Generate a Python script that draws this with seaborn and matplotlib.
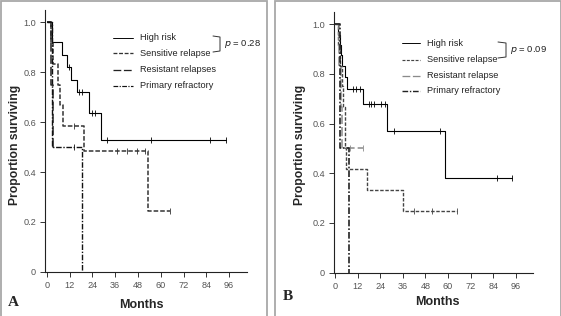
import matplotlib
matplotlib.use("Agg")
import matplotlib.pyplot as plt
from matplotlib.patches import Rectangle
from matplotlib.lines import Line2D
import seaborn as sns
import pandas as pd
import numpy as np

# ---- data (months, proportion surviving) ----
groups_a = ["High risk", "Sensitive relapse", "Resistant relapses", "Primary refractory"]
groups_b = ["High risk", "Sensitive relapse", "Resistant relapse", "Primary refractory"]

# panel A
hr_a_t = [0, 3.0, 8.0, 10.5, 13.0, 16.0, 22.5, 28.5, 94.5]
hr_a_s = [1.0, 0.92, 0.87, 0.82, 0.77, 0.72, 0.635, 0.53, 0.53]
hr_a_cens = [11.5, 17.0, 18.5, 24.0, 25.5, 31.5, 55.0, 86.0, 94.5]

sens_a_t = [0, 2.5, 3.5, 6.0, 7.0, 8.7, 19.8, 53.5, 65.0]
sens_a_s = [1.0, 0.917, 0.833, 0.75, 0.667, 0.583, 0.486, 0.243, 0.243]
sens_a_cens = [14.5, 37.0, 42.0, 47.5, 51.5, 65.0]

res_a_t = [0, 2.0, 3.2, 4.0]
res_a_s = [1.0, 0.75, 0.5, 0.5]
res_a_cens = []

prim_a_t = [0, 2.8, 18.4]
prim_a_s = [1.0, 0.5, 0.0]
prim_a_cens = [14.3]

# panel B
hr_b_t = [0, 1.5, 2.5, 3.0, 3.5, 5.3, 6.5, 14.9, 27.7, 58.3, 93.7]
hr_b_s = [1.0, 0.958, 0.917, 0.875, 0.833, 0.787, 0.74, 0.68, 0.57, 0.38, 0.38]
hr_b_cens = [9.7, 11.4, 13.1, 17.9, 19.3, 20.7, 24.5, 26.3, 31.5, 55.5, 85.9, 93.7]

sens_b_t = [0, 1.5, 2.5, 3.5, 4.5, 5.2, 5.8, 17.0, 36.3, 64.8]
sens_b_s = [1.0, 0.917, 0.833, 0.75, 0.667, 0.5, 0.417, 0.333, 0.25, 0.25]
sens_b_cens = [42.0, 51.3, 64.8]

res_b_t = [0, 2.0, 3.0, 3.8, 14.9]
res_b_s = [1.0, 0.833, 0.667, 0.5, 0.5]
res_b_cens = [8.0, 14.9]

prim_b_t = [0, 2.5, 7.5]
prim_b_s = [1.0, 0.5, 0.0]
prim_b_cens = []

x_ticks = [0, 12, 24, 36, 48, 60, 72, 84, 96]
y_ticks = [0, 0.2, 0.4, 0.6, 0.8, 1.0]
y_tick_labels = ["0", "0.2", "0.4", "0.6", "0.8", "1.0"]
p_values = ["0.28", "0.09"]
panel_letters = ["A", "B"]

# ---- styles ----
styles_a = [
    dict(color="black", lw=0.8, dashes=(None, None)),
    dict(color="#333333", lw=1.1, dashes=(3, 1.3)),
    dict(color="#222222", lw=1.1, dashes=(6, 2)),
    dict(color="#111111", lw=1.0, dashes=(4, 1.2, 1, 1.2)),
]
styles_b = [
    dict(color="black", lw=0.8, dashes=(None, None)),
    dict(color="#444444", lw=1.0, dashes=(2.5, 1.2)),
    dict(color="#8a8a8a", lw=1.1, dashes=(6, 2)),
    dict(color="#222222", lw=1.2, dashes=(4, 1.2, 1, 1.2)),
]

sns.set_style("ticks")
plt.rcParams["font.family"] = ["Liberation Sans", "DejaVu Sans"]

W, H = 561, 316
fig = plt.figure(figsize=(W / 100, H / 100), dpi=100)


def px(x0, y0, x1, y1):
    return [x0 / W, 1 - y1 / H, (x1 - x0) / W, (y1 - y0) / H]


def step_at(t, s, c):
    idx = np.searchsorted(t, c, side="right") - 1
    return np.asarray(s)[idx]


def draw_panel(ax, curves, styles, xlim):
    for (t, s, cens), st in zip(curves, styles):
        df = pd.DataFrame({"t": t, "s": s})
        sns.lineplot(data=df, x="t", y="s", ax=ax, estimator=None,
                     drawstyle="steps-post", color=st["color"], lw=st["lw"])
        ln = ax.lines[-1]
        if st["dashes"][0] is not None:
            ln.set_dashes(st["dashes"])
        if len(cens):
            cdf = pd.DataFrame({"t": cens, "s": step_at(t, s, cens)})
            sns.scatterplot(data=cdf, x="t", y="s", ax=ax, marker="|", s=18,
                            color=st["color"], linewidth=0.6, zorder=3)
    ax.set_xlim(*xlim)
    ax.set_ylim(0, 1.05)
    ax.set_xticks(x_ticks)
    ax.set_xticklabels([str(v) for v in x_ticks])
    ax.set_yticks(y_ticks)
    ax.set_yticklabels(y_tick_labels)
    ax.tick_params(axis="both", labelsize=6.6, labelcolor="#555555", length=3.5,
                   width=0.7, color="#333333", pad=3)
    sns.despine(ax=ax)
    for sp in ["left", "bottom"]:
        ax.spines[sp].set_linewidth(0.8)
        ax.spines[sp].set_color("#222222")
    ax.set_xlabel("")
    ax.set_ylabel("")


def draw_legend(names, styles, x0, x1, xt, rows, bracket, ptxt):
    for name, st, yy in zip(names, styles, rows):
        l = Line2D([x0 / W, x1 / W], [1 - yy / H, 1 - yy / H], transform=fig.transFigure,
                   color=st["color"], lw=st["lw"] * 0.85)
        if st["dashes"][0] is not None:
            l.set_dashes(st["dashes"])
        fig.add_artist(l)
        fig.text(xt / W, 1 - yy / H, name, fontsize=6.6, color="#222222", va="center", ha="left")
    bx0, bx1, by0, by1 = bracket
    fig.add_artist(Line2D([bx0 / W, bx1 / W, bx1 / W, bx0 / W],
                          [1 - by0 / H, 1 - (by0 + 1) / H, 1 - (by1 - 1) / H, 1 - by1 / H],
                          transform=fig.transFigure, color="#333333", lw=0.7))
    fig.text((bx1 + 4) / W, 1 - (by0 + by1) / 2 / H, r"$p$" + " = " + ptxt, fontsize=6.8,
             color="#222222", va="center", ha="left")


# panel frames
fig.add_artist(Rectangle((0.5 / W, -0.02), 266 / W, 1.0 - 0.5 / H + 0.02, transform=fig.transFigure,
                         fill=False, ec="#a8a8a8", lw=1.3))
fig.add_artist(Rectangle((275 / W, -0.02), (W - 275.5) / W, 1.0 - 0.5 / H + 0.02, transform=fig.transFigure,
                         fill=False, ec="#a8a8a8", lw=1.3))

ax_a = fig.add_axes(px(45, 10, 247, 271.7))
ax_b = fig.add_axes(px(334, 11.7, 533, 272.7))

draw_panel(ax_a, [(hr_a_t, hr_a_s, hr_a_cens), (sens_a_t, sens_a_s, sens_a_cens),
                  (res_a_t, res_a_s, res_a_cens), (prim_a_t, prim_a_s, prim_a_cens)],
           styles_a, (-0.9, 105.4))
draw_panel(ax_b, [(hr_b_t, hr_b_s, hr_b_cens), (sens_b_t, sens_b_s, sens_b_cens),
                  (res_b_t, res_b_s, res_b_cens), (prim_b_t, prim_b_s, prim_b_cens)],
           styles_b, (-0.5, 105.0))

draw_legend(groups_a, styles_a, 113, 133, 140, [37.7, 53.3, 70, 85.7], (213, 220, 36, 52), p_values[0])
draw_legend(groups_b, styles_b, 402, 420, 427, [43.3, 60, 75.7, 90.7], (498, 506, 42, 58), p_values[1])

# axis labels and panel letters
fig.text(141 / W, 1 - 305 / H, "Months", fontsize=9, fontweight="bold", ha="center", va="center")
fig.text(437 / W, 1 - 302 / H, "Months", fontsize=9, fontweight="bold", ha="center", va="center")
fig.text(15 / W, 1 - 145 / H, "Proportion surviving", fontsize=8.7, fontweight="bold",
         rotation=90, ha="center", va="center")
fig.text(300 / W, 1 - 145 / H, "Proportion surviving", fontsize=8.7, fontweight="bold",
         rotation=90, ha="center", va="center")
fig.text(13 / W, 1 - 303 / H, panel_letters[0], fontsize=11, fontweight="bold",
         family="Liberation Serif", ha="center", va="center")
fig.text(288 / W, 1 - 297 / H, panel_letters[1], fontsize=11, fontweight="bold",
         family="Liberation Serif", ha="center", va="center")

fig.savefig("out.png", dpi=100)
